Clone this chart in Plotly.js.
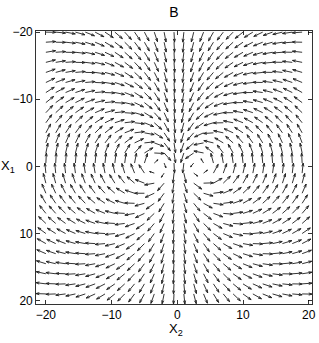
<!DOCTYPE html>
<html>
<head>
<meta charset="utf-8">
<script src="https://cdn.plot.ly/plotly-3.0.1.min.js"></script>
<style>html,body{margin:0;padding:0;background:#fff;}#plot{width:319px;height:343px;}</style>
</head>
<body>
<div id="plot"></div>
<script>
// Grid positions (tails of arrows)
const x2Values = [-20,-18.5,-17,-15.5,-14,-12.5,-11,-9.5,-8,-6.5,-5,-3.5,-2,-0.5,1,2.5,4,5.5,7,8.5,10,11.5,13,14.5,16,17.5,19];
const x1Values = [-20,-18.5,-17,-15.5,-14,-12.5,-11,-9.5,-8,-6.5,-5,-3.5,-2,-0.5,1,2.5,4,5.5,7,8.5,10,11.5,13,14.5,16,17.5,19];
// Arrow directions in degrees (0 = +X2, 90 = +X1), one row per X1 value
const angleRows = [
[1,5,10,15,21,27,33,40,47,55,62,71,79,87,96,104,112,120,128,135,142,149,155,161,167,172,176],
[-4,1,6,11,17,23,30,37,44,52,60,69,78,87,96,105,114,122,131,138,146,153,159,165,171,176,181],
[-9,-4,1,6,12,18,25,33,41,49,58,67,77,87,97,106,116,125,134,142,150,157,164,170,176,181,186],
[-14,-9,-4,1,7,13,21,28,37,46,55,65,76,86,97,108,118,128,137,146,154,162,169,175,181,186,191],
[-19,-15,-10,-5,1,8,15,23,32,42,52,63,74,86,98,109,121,131,141,151,159,167,174,181,186,192,196],
[-25,-21,-16,-11,-5,2,9,18,27,37,48,60,73,86,99,111,124,136,146,156,165,173,181,187,193,198,202],
[-32,-28,-23,-18,-12,-5,2,11,21,32,44,57,71,85,100,114,128,140,152,163,172,180,188,194,200,205,209],
[-38,-35,-30,-26,-20,-13,-6,3,13,25,38,53,68,85,101,117,132,147,159,171,180,189,196,202,207,212,216],
[-46,-42,-38,-34,-29,-23,-15,-6,4,16,31,47,65,84,103,121,138,154,168,180,190,198,205,211,216,220,223],
[-53,-50,-47,-43,-39,-33,-26,-18,-7,6,22,41,61,83,105,126,146,164,179,191,201,208,215,220,225,228,231],
[-61,-59,-56,-53,-49,-44,-38,-31,-21,-7,10,32,56,82,107,132,156,176,192,204,213,221,226,231,234,237,240],
[-70,-68,-66,-64,-61,-57,-52,-46,-37,-25,-6,20,51,81,109,139,169,193,210,221,228,234,238,242,245,247,249],
[-78,-77,-76,-75,-73,-71,-68,-64,-58,-48,-31,3,48,81,108,146,191,218,232,240,245,249,252,254,255,257,258],
[-87,-87,-86,-86,-86,-85,-84,-83,-82,-79,-72,-41,69,87,97,130,239,255,260,262,264,265,265,266,266,267,267],
[264,264,263,262,261,260,259,257,253,248,236,198,124,96,77,37,-37,-61,-70,-75,-77,-79,-81,-82,-83,-83,-84],
[255,254,253,251,249,246,242,238,231,220,201,170,132,99,71,36,-2,-29,-44,-53,-60,-64,-67,-70,-72,-73,-75],
[247,245,243,240,237,233,227,221,211,198,180,156,127,99,72,43,16,-7,-23,-35,-43,-49,-54,-58,-61,-63,-66],
[239,236,233,230,226,220,214,206,196,182,165,145,122,98,74,50,28,8,-7,-19,-29,-36,-42,-47,-51,-54,-57],
[231,228,224,220,215,209,202,194,183,170,155,137,117,97,76,56,37,20,5,-7,-17,-25,-31,-37,-41,-45,-49],
[223,220,216,211,206,199,192,183,173,161,146,131,114,96,78,60,44,29,15,4,-6,-15,-22,-28,-33,-37,-41],
[216,212,208,203,197,191,183,174,164,153,140,126,111,95,80,64,49,36,23,12,3,-6,-13,-19,-25,-29,-34],
[209,205,201,196,190,183,175,167,157,146,135,122,109,95,81,67,54,41,30,19,10,2,-5,-12,-17,-22,-27],
[203,199,194,189,183,176,169,160,151,141,130,119,107,94,82,69,57,46,35,26,17,9,2,-5,-11,-16,-20],
[197,193,188,183,177,170,163,155,146,137,127,116,105,94,82,71,60,50,40,31,22,15,8,1,-5,-10,-14],
[192,187,182,177,171,165,158,150,142,133,124,114,104,94,83,73,63,53,44,35,27,20,13,7,1,-4,-9],
[187,182,178,172,166,160,153,146,138,130,121,112,103,93,84,74,65,56,47,39,32,24,18,12,6,1,-4],
[182,178,173,168,162,156,149,142,135,127,119,110,102,93,84,75,67,58,50,43,35,29,22,16,11,5,1]
];
// Cells inside the two vortex cores, drawn with short arrows [row, col]
const shortCells = [[13,11],[13,12],[14,11],[14,12],[13,15],[13,16],[14,15],[14,16]];
const tickValues = [-20,-10,0,10,20];

const L = 1.5, alpha = 0.33, beta = 0.33;
const xs = [], ys = [];
angleRows.forEach((row, j) => {
  row.forEach((deg, k) => {
    const isShort = shortCells.some(c => c[0] === j && c[1] === k);
    const len = isShort ? L * 0.5 : L;
    const t = deg * Math.PI / 180;
    const u = len * Math.cos(t), v = len * Math.sin(t);
    const x = x2Values[k], y = x1Values[j];
    const tx = x + u, ty = y + v;
    xs.push(x, tx, null, tx - alpha * (u + beta * v), tx, tx - alpha * (u - beta * v), null);
    ys.push(y, ty, null, ty - alpha * (v - beta * u), ty, ty - alpha * (v + beta * u), null);
  });
});

const fam = 'Liberation Sans, Arial, Helvetica, sans-serif';
const font = {family: fam, size: 12, color: '#000'};
const axisCommon = {
  showgrid: false, zeroline: false, showline: true, mirror: 'ticks',
  linecolor: '#000', linewidth: 0.8, ticks: 'inside', ticklen: 4, tickwidth: 0.8,
  tickcolor: '#000', tickvals: tickValues, tickfont: font, fixedrange: true
};
const data = [{
  type: 'scatter', mode: 'lines', x: xs, y: ys,
  line: {color: 'rgb(30,30,30)', width: 0.9}, hoverinfo: 'skip', connectgaps: false
}];
const layout = {
  width: 319, height: 343,
  margin: {l: 36, r: 7, t: 31, b: 39, pad: 0},
  paper_bgcolor: '#fff', plot_bgcolor: '#fff',
  showlegend: false,
  font: font,
  title: {text: 'B', font: {family: fam, size: 14, color: '#000'}, x: 0.5, xref: 'paper', y: 1 - 12/343, yref: 'container', yanchor: 'middle'},
  xaxis: Object.assign({}, axisCommon, {range: [-21.5, 20.5]}),
  yaxis: Object.assign({}, axisCommon, {range: [20.5, -20.17]}),
  annotations: [
    {text: 'X<sub>2</sub>', xref: 'x', x: -0.27, yref: 'paper', y: -0.092, yanchor: 'middle', xanchor: 'center', showarrow: false, font: {family: fam, size: 13, color: '#000'}},
    {text: 'X<sub>1</sub>', xref: 'paper', x: -0.103, xanchor: 'center', yref: 'y', y: 0, yanchor: 'middle', showarrow: false, font: {family: fam, size: 13, color: '#000'}}
  ]
};
Plotly.newPlot('plot', data, layout, {staticPlot: true, displayModeBar: false});
</script>
</body>
</html>
